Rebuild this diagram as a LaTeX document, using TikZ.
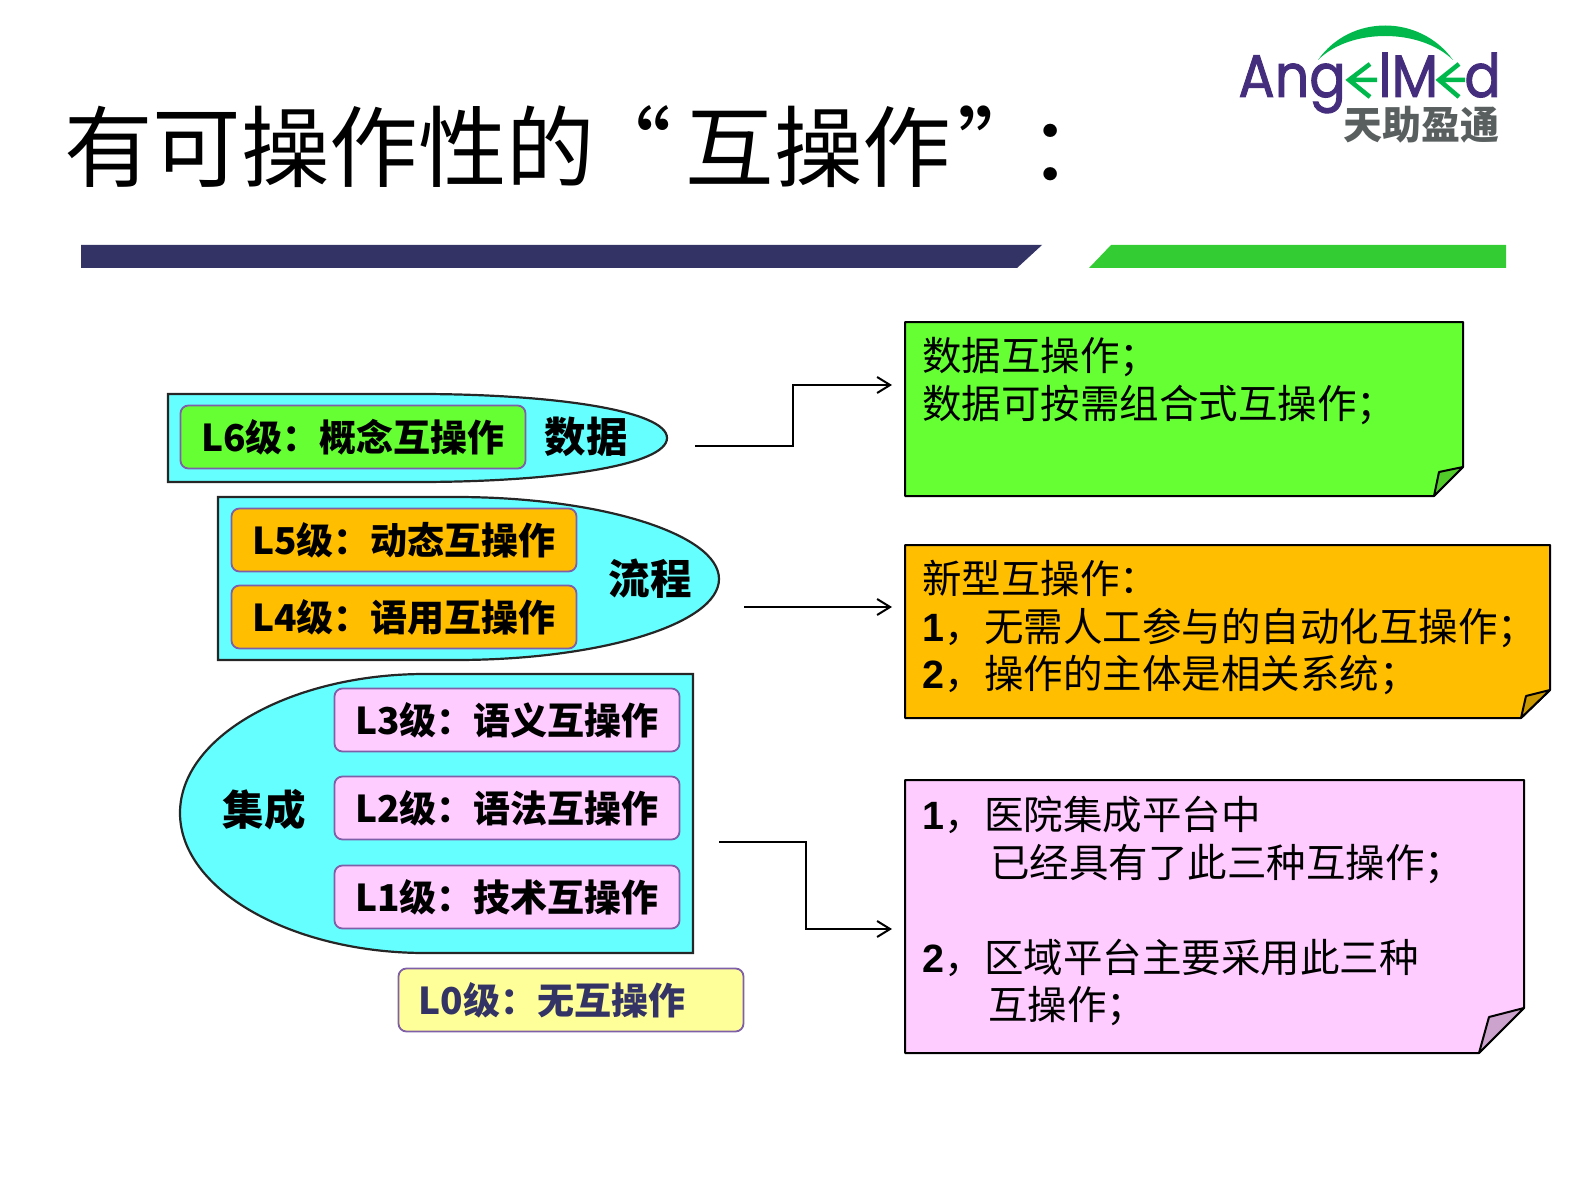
\documentclass[tikz,border=0pt]{standalone}
\usepackage{fontspec}
\usepackage[dvipsnames]{xcolor}
\usetikzlibrary{arrows.meta}
\setmainfont{Noto Sans CJK SC}
\newfontfamily\latinbold{Liberation Sans}
\newfontfamily\logofont[FakeBold=1.6]{Poppins}
\definecolor{barblue}{HTML}{333366}
\definecolor{bargreen}{HTML}{33CC33}
\definecolor{shapecyan}{HTML}{66FFFF}
\definecolor{notegreen}{HTML}{66FF33}
\definecolor{noteorange}{HTML}{FFBE00}
\definecolor{notepink}{HTML}{FFCCFF}
\definecolor{noteyellow}{HTML}{FFFF99}
\definecolor{boxpurple}{HTML}{7F5FA8}
\definecolor{logopurple}{HTML}{452D7E}
\definecolor{logogreen}{HTML}{00B84C}
\definecolor{logogray}{HTML}{595F5F}
\newcommand{\numlabel}[1]{\makebox[62pt][l]{{\latinbold\bfseries #1}，}}
\begin{document}
\begin{tikzpicture}[x=1pt,y=-1pt,>={Straight Barb[length=13pt,width=16pt]},thick,
    level node/.style={rounded corners=8pt,draw=boxpurple,line width=1.8pt,minimum width=345pt,minimum height=63pt,inner sep=0pt,font=\fontsize{37}{37}\selectfont\bfseries},
    group node/.style={inner sep=0pt,font=\fontsize{41.5}{41.5}\selectfont\bfseries},
    group shape/.style={draw=black!85,line width=2.2pt,fill=shapecyan},
    note shape/.style={draw=black,line width=2pt,line join=bevel},
    note text/.style={anchor=north west,inner sep=0pt,align=left,font=\fontsize{39.5}{47.5}\selectfont},
    logo text/.style={anchor=base west,inner sep=0pt,text=logopurple,font=\logofont\fontsize{60}{60}\selectfont,xscale=0.9,transform shape},
    link/.style={line width=2pt,draw=black}]
    \useasboundingbox (0,0) rectangle (1587,1190);

    % title and bars
    \node[anchor=west,inner sep=0pt,font=\fontsize{88.5}{88.5}\selectfont] (title) at (64,147) {有可操作性的\hspace{-12pt}“\hspace{14pt}互操作\hspace{6pt}”\hspace{-17pt}：};
    \fill[barblue] (81,245) -- (1042,245) -- (1017,268) -- (81,268) -- cycle;
    \fill[bargreen] (1111,245) -- (1506,245) -- (1506,268) -- (1089,268) -- cycle;

    % logo
    \fill[logogreen] (1318,60) .. controls (1350,14) and (1420,14) .. (1453,60) .. controls (1420,28) and (1350,28) .. (1318,60) -- cycle;
    \node[logo text] (logoang) at (1238,97) {Ang};
    \node[logo text] (logoim) at (1378,97) {lM};
    \node[logo text] (logod) at (1464,97) {d};
    \draw[logogreen,line width=4.5pt] (1370,64) -- (1349,80) -- (1370,97) (1352,80) -- (1377,80);
    \draw[logogreen,line width=4.5pt] (1459,64) -- (1439,80) -- (1459,97) (1442,80) -- (1465,80);
    \node[anchor=west,inner sep=0pt,text=logogray,font=\fontsize{39}{39}\selectfont\bfseries] (logocn) at (1343,125) {天助盈通};

    % data group
    \path[group shape] (168,394) -- (418,394) .. controls (556,394) and (667,411) .. (667,438) .. controls (667,465) and (556,482) .. (418,482) -- (168,482) -- cycle;
    \node[level node,fill=notegreen] (L6) at (353,437) {L6级：概念互操作};
    \node[group node] (data) at (586,437) {数据};

    % process group
    \path[group shape] (218,497) -- (456,497) .. controls (600,497) and (719,534) .. (719,579) .. controls (719,624) and (600,660) .. (456,660) -- (218,660) -- cycle;
    \node[level node,fill=noteorange] (L5) at (404,540) {L5级：动态互操作};
    \node[level node,fill=noteorange] (L4) at (404,617) {L4级：语用互操作};
    \node[group node] (flow) at (650,579) {流程};

    % integration group
    \path[group shape] (693,674) -- (693,953) -- (425,953) .. controls (292,953) and (180,890) .. (180,813) .. controls (180,736) and (292,674) .. (425,674) -- cycle;
    \node[level node,fill=notepink] (L3) at (507,720) {L3级：语义互操作};
    \node[level node,fill=notepink] (L2) at (507,808) {L2级：语法互操作};
    \node[level node,fill=notepink] (L1) at (507,897) {L1级：技术互操作};
    \node[group node] (integ) at (264,810) {集成};
    \node[level node,fill=noteyellow,text=barblue] (L0) at (571,1000) {L0级：无互操作\hspace*{38pt}};

    % notes
    \path[note shape,fill=notegreen] (905,322) -- (1463,322) -- (1463,467) -- (1434,496) -- (905,496) -- cycle;
    \path[note shape,fill=notegreen!80!black] (1463,467) -- (1439,472) -- (1434,496) -- cycle;
    \node[note text] (notedata) at (922,337) {数据互操作；\\数据可按需组合式互操作；};

    \path[note shape,fill=noteorange] (905,545) -- (1550,545) -- (1550,690) -- (1521,718) -- (905,718) -- cycle;
    \path[note shape,fill=noteorange!80!black] (1550,690) -- (1526,696) -- (1521,718) -- cycle;
    \node[note text] (noteflow) at (922,560) {新型互操作：\\\numlabel{1}无需人工参与的自动化互操作；\\\numlabel{2}操作的主体是相关系统；};

    \path[note shape,fill=notepink] (905,780) -- (1524,780) -- (1524,1008) -- (1479,1053) -- (905,1053) -- cycle;
    \path[note shape,fill=notepink!80!black] (1524,1008) -- (1489,1017) -- (1479,1053) -- cycle;
    \node[note text] (noteinteg) at (922,796) {\numlabel{1}医院集成平台中\\\hspace*{68pt}已经具有了此三种互操作；\\[47.5pt]\numlabel{2}区域平台主要采用此三种\\\hspace*{66pt}互操作；};

    % connectors
    \coordinate (dataout) at (695,446);
    \coordinate (datain) at (892,385);
    \coordinate (flowout) at (744,607);
    \coordinate (flowin) at (892,607);
    \coordinate (integout) at (719,842);
    \coordinate (integin) at (892,929);
    \draw[link,->] (dataout) -- (793,446) -- (793,385) -- (datain);
    \draw[link,->] (flowout) -- (flowin);
    \draw[link,->] (integout) -- (806,842) -- (806,929) -- (integin);
\end{tikzpicture}
\end{document}
